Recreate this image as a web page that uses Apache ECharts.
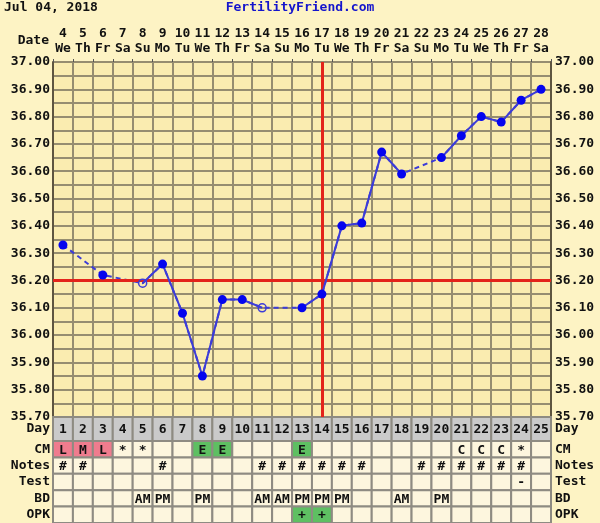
<!DOCTYPE html>
<html><head><meta charset="utf-8">
<script src="https://cdn.jsdelivr.net/npm/echarts@6/dist/echarts.min.js"></script>
<style>html,body{margin:0;padding:0;background:#FDF3C4;}#c{width:600px;height:523px;}</style>
</head><body><div id="c"></div>
<script>
// ---- data ----
const chartDate = 'Jul 04, 2018';
const siteName = 'FertilityFriend.com';
const dates = ['4','5','6','7','8','9','10','11','12','13','14','15','16','17','18','19','20','21','22','23','24','25','26','27','28'];
const weekdays = ['We','Th','Fr','Sa','Su','Mo','Tu','We','Th','Fr','Sa','Su','Mo','Tu','We','Th','Fr','Sa','Su','Mo','Tu','We','Th','Fr','Sa'];
const cycleDays = ['1','2','3','4','5','6','7','8','9','10','11','12','13','14','15','16','17','18','19','20','21','22','23','24','25'];
const temps = [36.33,null,36.22,null,36.19,36.26,36.08,35.85,36.13,36.13,36.10,null,36.10,36.15,36.40,36.41,36.67,36.59,null,36.65,36.73,36.80,36.78,36.86,36.90];
const openDays = [5, 11];
const coverline = 36.20;
const ovulationDay = 14;
const tempMin = 35.70, tempMax = 37.00, tempStep = 0.05;
const rowNames = ['CM','Notes','Test','BD','OPK'];
const cm    = ['L','M','L','*','*','','','E','E','','','','E','','','','','','','','C','C','C','*',''];
const notes = ['#','#','','','','#','','','','','#','#','#','#','#','#','','','#','#','#','#','#','#',''];
const test  = ['','','','','','','','','','','','','','','','','','','','','','','','-',''];
const bd    = ['','','','','AM','PM','','PM','','','AM','AM','PM','PM','PM','','','AM','','PM','','','','',''];
const opk   = ['','','','','','','','','','','','','+','+','','','','','','','','','','',''];

// ---- styles ----
const FONT = 'DejaVu Sans Mono';
const gridColor = '#968d70';
const tableLine = '#8e8b82';
const cellFills = {CM: {L:'#EF7C8E', M:'#EF7C8E', H:'#EF7C8E', E:'#5EBF62'}, OPK: {'+':'#5EBF62'}};
const rows = [cm, notes, test, bd, opk];

const cells = [];
rows.forEach((r, ri) => r.forEach((t, di) => {
  const m = cellFills[rowNames[ri]];
  cells.push({x: di, y: ri, text: t, fill: (m && m[t]) || '#FDF6DE'});
}));
const dayCells = cycleDays.map((d, i) => ({x: i, y: 0, text: d, fill: '#CACACA'}));

function makeRender(list) {
  return function (params, api) {
    const c = list[params.dataIndex];
    const p = api.coord([api.value(0), api.value(1)]);
    const s = api.size([1, 1]);
    return {
      type: 'group',
      children: [
        {type: 'rect', shape: {x: p[0] - s[0] / 2, y: p[1] - s[1] / 2, width: s[0], height: s[1]},
         style: {fill: c.fill, stroke: tableLine, lineWidth: 2}},
        {type: 'text', x: p[0], y: p[1] + 1,
         style: {text: c.text, fill: '#111', font: 'bold 13px ' + FONT, align: 'center', verticalAlign: 'middle'}}
      ]
    };
  };
}

const solidData = temps.map((v, i) => {
  if (v === null) return null;
  if (openDays.indexOf(i + 1) >= 0) {
    return {value: v, symbolSize: 8, itemStyle: {color: 'rgba(0,0,0,0)', borderColor: '#3c3cd8', borderWidth: 1.5}};
  }
  return v;
});

const labelStyle = {fontFamily: FONT, fontWeight: 'bold', fontSize: 13, color: '#111'};
const rowLabel = (m) => Object.assign({margin: m, interval: 0}, labelStyle);
const tempFmt = v => { const k = Math.round(v * 100); return k % 10 === 0 ? (k / 100).toFixed(2) : ''; };

const chart = echarts.init(document.getElementById('c'), null, {renderer: 'canvas'});
chart.setOption({
  animation: false,
  backgroundColor: '#FDF3C4',
  textStyle: {fontFamily: FONT},
  graphic: [
    {type: 'text', left: 4, top: 1, style: {text: chartDate, font: 'bold 13px ' + FONT, fill: '#111'}},
    {type: 'text', left: 'center', top: 1, style: {text: siteName, font: 'bold 13px ' + FONT, fill: '#1515cc'}},
    {type: 'text', right: 551, top: 34, style: {text: 'Date', font: 'bold 13px ' + FONT, fill: '#111'}}
  ],
  grid: [
    {left: 53, top: 62, width: 498, height: 355, show: true, backgroundColor: '#FAECB0', borderWidth: 0},
    {left: 53, top: 417, width: 498, height: 24, show: false},
    {left: 53, top: 441, width: 498, height: 85, show: false}
  ],
  xAxis: [
    {type: 'category', gridIndex: 0, position: 'top', data: dates, boundaryGap: true,
     axisLine: {show: false},
     axisTick: {show: true, length: 3, lineStyle: {color: '#555'}},
     axisLabel: {interval: 0, margin: 6, formatter: (v, i) => '{n|' + v + '}\n{w|' + weekdays[i] + '}',
       rich: {n: Object.assign({lineHeight: 15}, labelStyle), w: Object.assign({lineHeight: 15}, labelStyle)}},
     splitLine: {show: true, interval: 0, lineStyle: {color: gridColor, width: 2}}},
    {type: 'category', gridIndex: 1, data: cycleDays, show: false},
    {type: 'category', gridIndex: 2, data: cycleDays, show: false}
  ],
  yAxis: [
    {type: 'value', gridIndex: 0, min: tempMin, max: tempMax, interval: tempStep, position: 'left',
     axisLine: {show: true, lineStyle: {color: '#5e5540', width: 2}}, axisTick: {show: false},
     axisLabel: Object.assign({margin: 3, formatter: tempFmt}, labelStyle),
     splitLine: {show: true, lineStyle: {color: gridColor, width: 2}}},
    {type: 'value', gridIndex: 0, min: tempMin, max: tempMax, interval: tempStep, position: 'right',
     axisLine: {show: true, lineStyle: {color: '#5e5540', width: 2}}, axisTick: {show: false},
     axisLabel: Object.assign({margin: 4, formatter: tempFmt}, labelStyle),
     splitLine: {show: false}},
    {type: 'category', gridIndex: 1, data: ['Day'], position: 'left', axisLine: {show: false}, axisTick: {show: false}, axisLabel: rowLabel(3)},
    {type: 'category', gridIndex: 1, data: ['Day'], position: 'right', axisLine: {show: false}, axisTick: {show: false}, axisLabel: rowLabel(4)},
    {type: 'category', gridIndex: 2, data: rowNames, inverse: true, position: 'left', axisLine: {show: false}, axisTick: {show: false}, axisLabel: rowLabel(3)},
    {type: 'category', gridIndex: 2, data: rowNames, inverse: true, position: 'right', axisLine: {show: false}, axisTick: {show: false}, axisLabel: rowLabel(4)}
  ],
  series: [
    {type: 'line', xAxisIndex: 0, yAxisIndex: 0, data: temps, connectNulls: true, symbol: 'none', z: 2,
     lineStyle: {color: '#3c3cd8', width: 2, type: [5, 4]}, silent: true},
    {type: 'line', xAxisIndex: 0, yAxisIndex: 0, data: solidData, connectNulls: false, z: 4,
     symbol: 'circle', symbolSize: 9, itemStyle: {color: '#0505ee'},
     lineStyle: {color: '#3c3cd8', width: 2},
     markLine: {silent: true, symbol: ['none', 'none'], label: {show: false}, z: 3,
       lineStyle: {color: '#E3241B', width: 3, type: 'solid'},
       data: [{yAxis: coverline}, {xAxis: ovulationDay - 1}]}},
    {type: 'custom', xAxisIndex: 1, yAxisIndex: 2, data: dayCells.map(c => [c.x, c.y]), renderItem: makeRender(dayCells)},
    {type: 'custom', xAxisIndex: 2, yAxisIndex: 4, data: cells.map(c => [c.x, c.y]), renderItem: makeRender(cells)}
  ]
});
</script>
</body></html>
